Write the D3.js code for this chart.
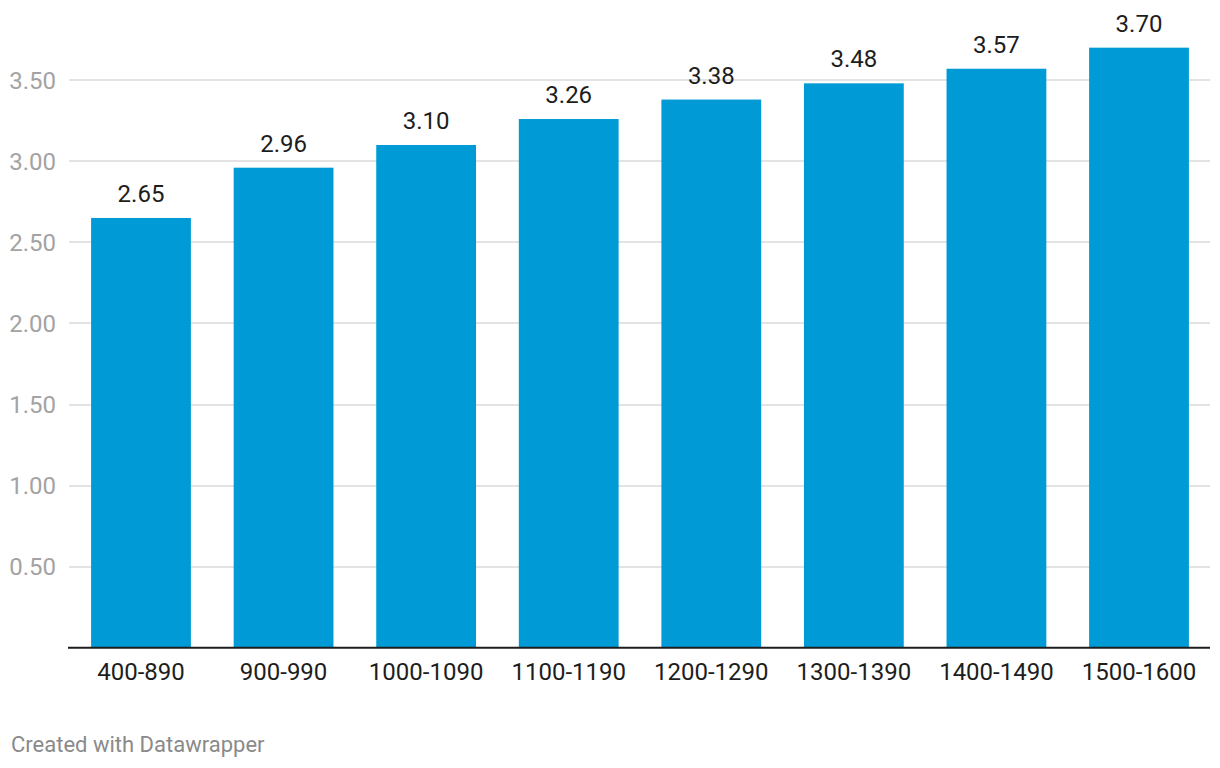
<!DOCTYPE html>
<html><head><meta charset="utf-8">
<script src="https://cdn.jsdelivr.net/npm/d3@7"></script>
<style>body{margin:0;background:#fff;font-family:Roboto,sans-serif;}</style>
</head><body>
<svg id="c" width="1220" height="768"></svg>
<script>
const categories = ["400-890","900-990","1000-1090","1100-1190","1200-1290","1300-1390","1400-1490","1500-1600"];
const values = [2.65,2.96,3.10,3.26,3.38,3.48,3.57,3.70];
const yTicks = [0.5,1.0,1.5,2.0,2.5,3.0,3.5];

(function(){
const svg = d3.select("#c");
const left = 68, right = 1210, bottom = 647.8;
const y = d3.scaleLinear().domain([0, 0.5]).range([bottom, bottom - 81.1]);
const x = d3.scaleBand().domain(categories).range([69, 1211]).paddingInner(0.3).paddingOuter(0.155);

svg.append("g").selectAll("line").data(yTicks).join("line")
  .attr("x1", left + 1).attr("x2", right)
  .attr("y1", d => Math.round(y(d)) ).attr("y2", d => Math.round(y(d)))
  .attr("stroke", "#e3e3e3").attr("stroke-width", 2);

svg.append("g").selectAll("text").data(yTicks).join("text")
  .attr("x", 56).attr("y", d => y(d) + 8.5)
  .attr("text-anchor", "end").attr("fill", "#a3a3a3")
  .attr("font-size", 24).text(d => d.toFixed(2));

svg.append("g").selectAll("rect").data(values).join("rect")
  .attr("x", (d,i) => x(categories[i])).attr("width", x.bandwidth())
  .attr("y", d => y(d)).attr("height", d => bottom - y(d))
  .attr("fill", "#009bd7");

svg.append("g").selectAll("text").data(values).join("text")
  .attr("x", (d,i) => x(categories[i]) + x.bandwidth()/2)
  .attr("y", d => y(d) - 16)
  .attr("text-anchor", "middle").attr("fill", "#1d1d1d")
  .attr("font-size", 24).text(d => d.toFixed(2));

svg.append("line").attr("x1", left).attr("x2", right)
  .attr("y1", bottom).attr("y2", bottom)
  .attr("stroke", "#1d1d1d").attr("stroke-width", 2);

svg.append("g").selectAll("text").data(categories).join("text")
  .attr("x", d => x(d) + x.bandwidth()/2).attr("y", 680)
  .attr("text-anchor", "middle").attr("fill", "#1d1d1d")
  .attr("font-size", 24).text(d => d);

svg.append("text").attr("x", 11).attr("y", 752)
  .attr("fill", "#8a8a8a").attr("font-size", 22).text("Created with Datawrapper");
})();
</script>
</body></html>
